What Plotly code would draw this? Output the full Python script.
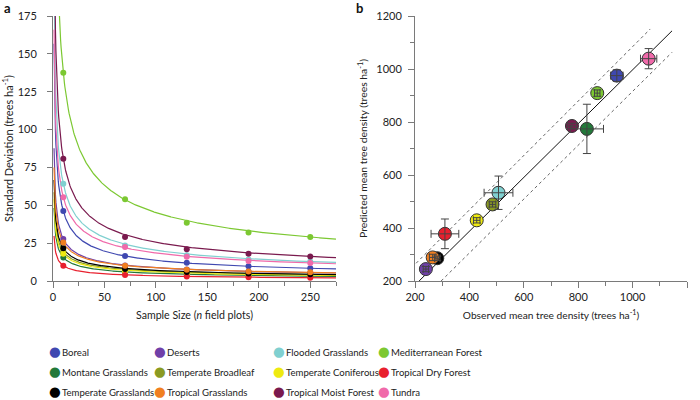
import plotly.graph_objects as go
import numpy as np

# ---------------- data ----------------
biomes = ["Boreal", "Deserts", "Flooded Grasslands", "Mediterranean Forest",
          "Montane Grasslands", "Temperate Broadleaf", "Temperate Coniferous", "Tropical Dry Forest",
          "Temperate Grasslands", "Tropical Grasslands", "Tropical Moist Forest", "Tundra"]
colors = ["#3f48b0", "#7040a8", "#80d0d0", "#7cc832",
          "#23793a", "#8a9a22", "#eeea10", "#e8202e",
          "#000000", "#f07f20", "#7a1a4e", "#f06aaa"]

# panel a: standard deviation at sample sizes
sample_sizes = [10, 70, 130, 190, 250]
sd_boreal = [46.2, 16.5, 12.0, 9.7, 8.4]
sd_deserts = [27.7, 10.2, 7.6, 6.3, 5.5]
sd_flooded = [64.3, 23.5, 17.0, 14.2, 12.8]
sd_mediterranean = [137.5, 54.0, 38.5, 32.0, 29.0]
sd_montane = [15.6, 5.6, 4.2, 3.5, 3.1]
sd_broadleaf = [19.5, 7.0, 5.2, 4.4, 3.9]
sd_coniferous = [18.0, 6.5, 4.8, 4.0, 3.6]
sd_trop_dry = [10.1, 4.0, 2.9, 2.4, 2.2]
sd_temp_grass = [21.6, 8.0, 6.0, 5.0, 4.5]
sd_trop_grass = [25.5, 10.0, 7.5, 6.2, 5.7]
sd_trop_moist = [80.8, 29.0, 21.0, 18.0, 16.2]
sd_tundra = [55.3, 22.5, 16.0, 13.2, 11.9]
sd_points = [sd_boreal, sd_deserts, sd_flooded, sd_mediterranean, sd_montane, sd_broadleaf,
             sd_coniferous, sd_trop_dry, sd_temp_grass, sd_trop_grass, sd_trop_moist, sd_tundra]

# fitted power-law curves SD = a * n^-b (coefficients)
fit_a = [156.6, 87.6, 203.0, 417.7, 48.2, 58.6, 54.0, 29.8, 66.7, 75.0, 255.5, 166.0]
fit_b = [0.53, 0.50, 0.50, 0.483, 0.49, 0.48, 0.48, 0.47, 0.49, 0.47, 0.50, 0.477]

# panel b: observed vs predicted mean tree density
obs_density = [942, 240, 507, 870, 832, 485, 427, 310, 282, 265, 777, 1059]
pred_density = [975, 245, 533, 909, 774, 489, 429, 378, 286, 289, 785, 1039]
obs_err = [23, 10, 53, 10, 61, 12, 12, 51, 10, 12, 17, 30]
pred_err = [22, 10, 63, 12, 93, 10, 10, 56, 8, 12, 10, 38]

fit_line_x = [215, 1145]
fit_line_y = [200, 1144]
upper_band_x = [204, 1065]
upper_band_y = [267, 1151]
lower_band_x = [296, 1145]
lower_band_y = [200, 1063]

legend_order = [["Boreal", "Montane Grasslands", "Temperate Grasslands"],
                ["Deserts", "Temperate Broadleaf", "Tropical Grasslands"],
                ["Flooded Grasslands", "Temperate Coniferous", "Tropical Moist Forest"],
                ["Mediterranean Forest", "Tropical Dry Forest", "Tundra"]]

# ---------------- figure ----------------
FONT = "Lato, 'Open Sans', sans-serif"
W, H = 700, 400
ML, MR, MT, MB = 53, 13, 16, 119
PW, PH = W - ML - MR, H - MT - MB

def px_x(p):
    return (p - ML) / PW

def px_y(p):
    return (H - MB - p) / PH

fig = go.Figure()

n_curve = np.linspace(1, 275, 600)
for name, col, a, b in zip(biomes, colors, fit_a, fit_b):
    fig.add_trace(go.Scatter(x=n_curve, y=a * n_curve ** (-b), mode="lines",
                             line=dict(color=col, width=1.2), showlegend=False,
                             hoverinfo="skip", xaxis="x", yaxis="y"))
for name, col, pts in zip(biomes, colors, sd_points):
    fig.add_trace(go.Scatter(x=sample_sizes, y=pts, mode="markers",
                             marker=dict(color=col, size=6), showlegend=False,
                             name=name, xaxis="x", yaxis="y"))

# panel b lines
fig.add_trace(go.Scatter(x=upper_band_x, y=upper_band_y, mode="lines",
                         line=dict(color="#666", width=1, dash="dot"), showlegend=False,
                         xaxis="x2", yaxis="y2"))
fig.add_trace(go.Scatter(x=lower_band_x, y=lower_band_y, mode="lines",
                         line=dict(color="#666", width=1, dash="dot"), showlegend=False,
                         xaxis="x2", yaxis="y2"))
fig.add_trace(go.Scatter(x=fit_line_x, y=fit_line_y, mode="lines",
                         line=dict(color="#111", width=1), showlegend=False,
                         xaxis="x2", yaxis="y2"))
fig.add_trace(go.Scatter(x=obs_density, y=pred_density, mode="markers",
                         marker=dict(color=colors, size=13, line=dict(color="#333", width=1)),
                         showlegend=False, xaxis="x2", yaxis="y2"))
fig.add_trace(go.Scatter(x=obs_density, y=pred_density, mode="markers",
                         marker=dict(color="rgba(0,0,0,0)", size=1),
                         error_x=dict(type="data", array=obs_err, color="#444", thickness=1, width=4),
                         error_y=dict(type="data", array=pred_err, color="#444", thickness=1, width=4),
                         showlegend=False, xaxis="x2", yaxis="y2"))

# legend entries (4 legends = 4 columns); coloured dot drawn as text glyph
legend_names = ["legend", "legend2", "legend3", "legend4"]
for li, column in enumerate(legend_order):
    for name in column:
        col = colors[biomes.index(name)]
        label = ('<span style="color:%s;font-size:13.5px;font-family:DejaVu Sans">●</span>\u2009%s'
                 % (col, name))
        fig.add_trace(go.Scatter(x=[None], y=[None], mode="markers", name=label,
                                 marker=dict(color="rgba(0,0,0,0)", size=1),
                                 legend=legend_names[li], legendgroup=name,
                                 xaxis="x", yaxis="y"))

col_marker_px = [54, 159, 278, 383]
leg_common = dict(orientation="v", yanchor="top", xanchor="left", bgcolor="rgba(0,0,0,0)",
                  font=dict(family=FONT, size=9.6, color="#222"), tracegroupgap=1.3,
                  itemclick=False, itemdoubleclick=False)
legend_layout = {}
for li, ln in enumerate(legend_names):
    legend_layout[ln] = dict(x=px_x(col_marker_px[li] - 45), y=px_y(337.5), **leg_common)

axis_common = dict(showline=True, linecolor="#7a7a7a", linewidth=1, showgrid=False,
                   zeroline=False, ticks="outside", tickcolor="#7a7a7a",
                   tickfont=dict(family=FONT, size=11, color="#222"))

fig.update_layout(
    width=W, height=H, margin=dict(l=ML, r=MR, t=MT, b=MB, autoexpand=False),
    plot_bgcolor="white", paper_bgcolor="white",
    font=dict(family=FONT, color="#222"),
    xaxis=dict(domain=[0, px_x(336)], range=[0, 275], tickvals=[0, 50, 100, 150, 200, 250],
               ticklen=6, minor=dict(dtick=25, ticklen=4, ticks="outside", tickcolor="#7a7a7a"),
               title=dict(text="Sample Size (<i>n</i> field plots)", standoff=9,
                          font=dict(family=FONT, size=10.6)),
               anchor="y", **axis_common),
    yaxis=dict(domain=[0, 1], range=[0, 175], dtick=25, ticklen=5,
               ticklabelstandoff=8,
               title=dict(text="Standard Deviation (trees ha<sup>-1</sup>)", standoff=5,
                          font=dict(family=FONT, size=11)),
               anchor="x", **axis_common),
    xaxis2=dict(domain=[px_x(415), 1], range=[200, 1200], dtick=200, ticklen=6,
                minor=dict(dtick=100, ticklen=4, ticks="outside", tickcolor="#7a7a7a"),
                title=dict(text="Observed mean tree density (trees ha<sup>-1</sup>)", standoff=9,
                           font=dict(family=FONT, size=10.2)),
                anchor="y2", **axis_common),
    yaxis2=dict(domain=[0, 1], range=[200, 1200], dtick=200, ticklen=6,
                ticklabelstandoff=4,
                minor=dict(dtick=100, ticklen=4, ticks="outside", tickcolor="#7a7a7a"),
                title=dict(text="Predicted mean tree density (trees ha<sup>-1</sup>)", standoff=6,
                           font=dict(family=FONT, size=10.4)),
                anchor="x2", **axis_common),
    annotations=[
        dict(text="<b>a</b>", x=px_x(2), y=px_y(8), xref="paper", yref="paper",
             xanchor="left", yanchor="middle", showarrow=False,
             font=dict(family=FONT, size=13, color="#111")),
        dict(text="<b>b</b>", x=px_x(354), y=px_y(8), xref="paper", yref="paper",
             xanchor="left", yanchor="middle", showarrow=False,
             font=dict(family=FONT, size=13, color="#111")),
    ],
    **legend_layout,
)

fig.write_html("out.html", config={"displayModeBar": False},
               post_script="document.body.style.margin='0px';")
